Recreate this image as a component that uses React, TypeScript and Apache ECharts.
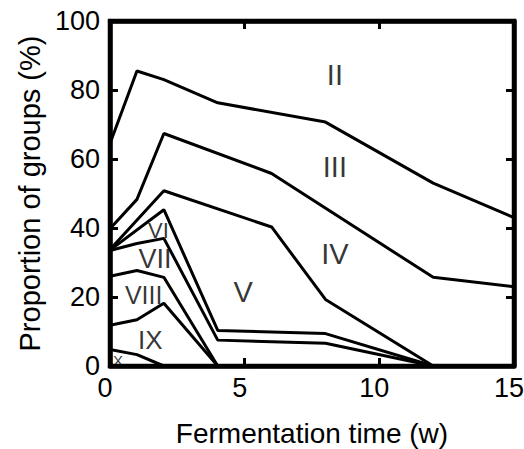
import React, { useEffect, useRef } from "react";
import * as echarts from "echarts";

// Boundary lines between the stacked groups: [fermentation time (w), proportion (%)]
const boundaryII_III = [[0, 64.5], [1, 85.5], [2, 83], [4, 76.3], [8, 70.7], [12, 53], [15, 43]];
const boundaryIII_IV = [[0, 39.8], [1, 48.3], [2, 67.4], [6, 55.8], [12, 25.7], [15, 23]];
const boundaryIV_V = [[0, 33.8], [2, 50.8], [6, 40.3], [8, 19.3], [12, 0]];
const boundaryV_VI = [[0, 33.6], [2, 45.3], [4, 10.3], [8, 9.4], [12, 0]];
const boundaryVI_VII = [[0, 33.5], [1, 35.5], [2, 37], [4, 7.5], [8, 6.6], [12, 0]];
const boundaryVII_VIII = [[0, 26], [1, 27.7], [2, 25.7], [4, 0]];
const boundaryVIII_IX = [[0, 11.8], [1, 13.4], [2, 18.2], [4, 0]];
const boundaryIX_X = [[0, 4.8], [1, 3.3], [2, 0]];

const boundaries = [
  boundaryII_III,
  boundaryIII_IV,
  boundaryIV_V,
  boundaryV_VI,
  boundaryVI_VII,
  boundaryVII_VIII,
  boundaryVIII_IX,
  boundaryIX_X,
];

// Group labels
const groupNames = ["II", "III", "IV", "V", "VI", "VII", "VIII", "IX", "X"];
const groupX = [8.35, 8.35, 8.35, 4.94, 1.8, 1.67, 1.25, 1.5, 0.3];
const groupY = [84.3, 57.7, 32.5, 21.4, 39.3, 31, 20.6, 7.5, 1.6];
const groupFont = [29, 29, 29, 29, 22, 27, 25, 26, 15];

const xTicks = { min: 0, max: 15, interval: 5 };
const yTicks = { min: 0, max: 100, interval: 20 };

const FONT = "Liberation Sans, Arial, Helvetica, sans-serif";

export default function App() {
  const ref = useRef<HTMLDivElement>(null);
  useEffect(() => {
    document.body.style.margin = "0";
    document.body.style.overflow = "hidden";
    if (!ref.current) return;
    const chart = echarts.init(ref.current, undefined, { renderer: "svg" });

    const axisCommon = (showLabel: boolean, margin: number, padding: number[]) => ({
      type: "value",
      z: 10,
      axisLine: { show: true, lineStyle: { color: "#000", width: 4.5 } },
      axisTick: { show: true, inside: true, length: 8, lineStyle: { color: "#000", width: 3 } },
      axisLabel: {
        show: showLabel,
        color: "#000",
        fontFamily: FONT,
        fontSize: 27,
        margin,
        padding,
      },
      splitLine: { lineStyle: { color: "rgba(0,0,0,0)", width: 0 } },
    });

    const lineSeries = boundaries.map((pts) => ({
      type: "line",
      data: pts,
      xAxisIndex: 0,
      yAxisIndex: 0,
      symbol: "none",
      lineStyle: { color: "#000", width: 3 },
    }));

    const labelSeries = {
      type: "scatter",
      xAxisIndex: 0,
      yAxisIndex: 0,
      symbolSize: 0,
      data: groupNames.map((n, i) => ({
        name: n,
        value: [groupX[i], groupY[i]],
        label: {
          show: true,
          position: "inside",
          formatter: n,
          color: "#000",
          fontFamily: FONT,
          fontSize: groupFont[i],
        },
      })),
    };

    chart.setOption({
      animation: false,
      grid: [
        {
          left: 110,
          right: 10,
          top: 21,
          bottom: 83,
          outerBoundsMode: "none",
          show: true,
          borderColor: "#000",
          borderWidth: 4.5,
          backgroundColor: "rgba(0,0,0,0)",
          z: 10,
        },
        { left: 110, right: 10, top: 21, bottom: 83, outerBoundsMode: "none", z: 10 },
      ],
      xAxis: [
        {
          ...axisCommon(true, 8, [0, 10, 0, 0]),
          gridIndex: 0,
          position: "bottom",
          ...xTicks,
          name: "Fermentation time (w)",
          nameLocation: "middle",
          nameGap: 53,
          nameTextStyle: { color: "#000", fontFamily: FONT, fontSize: 28 },
        },
        { ...axisCommon(false, 8, [0, 0, 0, 0]), gridIndex: 1, position: "top", inverse: true, ...xTicks },
      ],
      yAxis: [
        {
          ...axisCommon(true, 10, [0, 0, 0, 0]),
          gridIndex: 0,
          position: "left",
          ...yTicks,
          name: "Proportion of groups (%)",
          nameLocation: "middle",
          nameGap: 66,
          nameTextStyle: { color: "#000", fontFamily: FONT, fontSize: 29 },
        },
        { ...axisCommon(false, 10, [0, 0, 0, 0]), gridIndex: 1, position: "right", inverse: true, ...yTicks },
      ],
      series: [...lineSeries, labelSeries],
    });
    return () => chart.dispose();
  }, []);
  return <div ref={ref} style={{ width: 524, height: 449 }} />;
}
